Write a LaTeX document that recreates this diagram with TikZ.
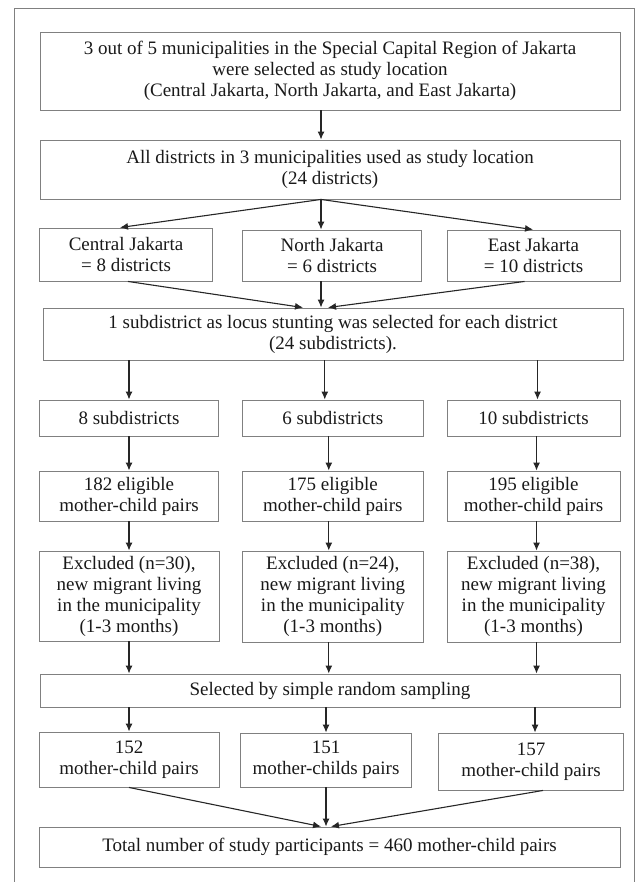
\documentclass[tikz,border=0pt]{standalone}
\usepackage{fontspec}
\setmainfont{Liberation Serif}
\usetikzlibrary{arrows.meta,calc}
\begin{document}
\begin{tikzpicture}[x=1pt,y=-1pt,
  box/.style={draw=black!50, line width=0.9pt, inner sep=0pt, align=center,
    font=\fontsize{19}{21}\selectfont, text=black!90},
  wh/.style 2 args={minimum width=#1pt, minimum height=#2pt},
  arr/.style={draw=black!85, line width=1.1pt, -{Latex[length=8pt,width=7pt]}}]
\useasboundingbox (0,0) rectangle (637,882);
\draw[black!50, line width=1pt] (14,900) -- (14,9) -- (634,9) -- (634,900);

\node[box, wh={580}{78}] (b1) at (330,71) {3 out of 5 municipalities in the Special Capital Region of Jakarta\\were selected as study location\\(Central Jakarta, North Jakarta, and East Jakarta)};
\node[box, wh={580}{59}] (b2) at (330,169.5) {All districts in 3 municipalities used as study location\\(24 districts)};

\node[box, wh={173.5}{53}] (c1) at (126,254.5) {Central Jakarta\\= 8 districts};
\node[box, wh={179.5}{51}] (c2) at (332,255.5) {North Jakarta\\= 6 districts};
\node[box, wh={173}{51}] (c3) at (533.5,255.5) {East Jakarta\\= 10 districts};

\node[box, wh={580}{52}] (b4) at (333,334) {1 subdistrict as locus stunting was selected for each district\\(24 subdistricts).};

\node[box, wh={179.5}{36}] (s1) at (129,418) {8 subdistricts};
\node[box, wh={180.5}{36}] (s2) at (332.75,418) {6 subdistricts};
\node[box, wh={173}{36}] (s3) at (533.5,418) {10 subdistricts};

\node[box, wh={179.5}{50}] (e1) at (129,496) {182 eligible\\mother-child pairs};
\node[box, wh={180.5}{50}] (e2) at (332.75,496) {175 eligible\\mother-child pairs};
\node[box, wh={173}{50}] (e3) at (533.5,496) {195 eligible\\mother-child pairs};

\node[box, wh={180}{90}] (x1) at (129,596) {Excluded (n=30),\\new migrant living\\in the municipality\\(1-3 months)};
\node[box, wh={180.5}{91}] (x2) at (332.75,596.5) {Excluded (n=24),\\new migrant living\\in the municipality\\(1-3 months)};
\node[box, wh={173}{91}] (x3) at (533.5,596.5) {Excluded (n=38),\\new migrant living\\in the municipality\\(1-3 months)};

\node[box, wh={580}{33}] (sel) at (330,690.5) {Selected by simple random sampling};

\node[box, wh={180}{55}] (f1) at (129,759.5) {152\\mother-child pairs};
\node[box, wh={171.6}{54}] (f2) at (326,760) {151\\mother-childs pairs};
\node[box, wh={184.6}{57}] (f3) at (531,761.5) {157\\mother-child pairs};

\node[box, wh={581}{40}] (tot) at (329.5,847) {Total number of study participants = 460 mother-child pairs};

% connectors
\draw[arr] ([xshift=-9pt]b1.south) -- ([xshift=-9pt]b2.north);
\draw[arr] ([xshift=-9pt]b2.south) -- ([xshift=-6pt]c1.north);
\draw[arr] ([xshift=-9pt]b2.south) -- ([xshift=-11pt]c2.north);
\draw[arr] ([xshift=-9pt]b2.south) -- ([xshift=-0.5pt]c3.north);

\draw[arr] ([xshift=2pt]c1.south) -- ([xshift=-30pt]b4.north);
\draw[arr] ([xshift=-11pt]c2.south) -- ([xshift=-12pt]b4.north);
\draw[arr] ([xshift=-9pt]c3.south) -- ([xshift=-5pt]b4.north);

\draw[arr] (s1.north |- b4.south) -- (s1.north);
\draw[arr] ([xshift=-8pt]s2.north |- b4.south) -- ([xshift=-8pt]s2.north);
\draw[arr] ([xshift=4pt]s3.north |- b4.south) -- ([xshift=4pt]s3.north);

\draw[arr] (s1.south) -- (e1.north);
\draw[arr] ([xshift=-4pt]s2.south) -- ([xshift=-4pt]e2.north);
\draw[arr] ([xshift=3pt]s3.south) -- ([xshift=3pt]e3.north);

\draw[arr] (e1.south) -- (x1.north);
\draw[arr] ([xshift=-4pt]e2.south) -- ([xshift=-4pt]x2.north);
\draw[arr] ([xshift=3pt]e3.south) -- ([xshift=3pt]x3.north);

\draw[arr] (x1.south) -- (x1.south |- sel.north);
\draw[arr] ([xshift=-4pt]x2.south) -- ([xshift=-4pt]x2.south |- sel.north);
\draw[arr] ([xshift=3pt]x3.south) -- ([xshift=3pt]x3.south |- sel.north);

\draw[arr] (f1.north |- sel.south) -- (f1.north);
\draw[arr] (f2.north |- sel.south) -- (f2.north);
\draw[arr] ([xshift=4pt]f3.north |- sel.south) -- ([xshift=4pt]f3.north);

\draw[arr] (f1.south) -- ([xshift=-8.5pt]tot.north);
\draw[arr] (f2.south) -- ([xshift=-3.5pt]tot.north);
\draw[arr] ([xshift=12pt]f3.south) -- ([xshift=1.5pt]tot.north);
\end{tikzpicture}
\end{document}
